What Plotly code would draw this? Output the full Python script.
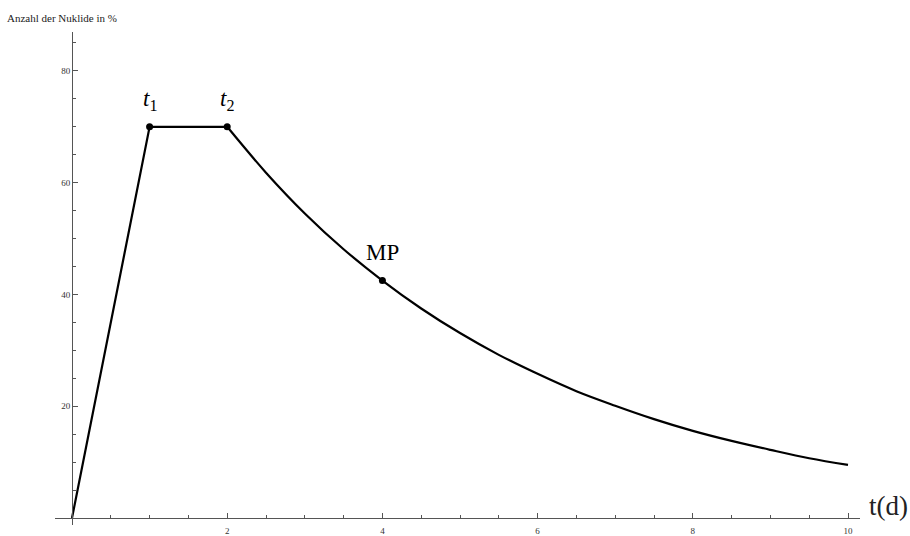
import plotly.graph_objects as go

# Nuclide count (%) over time t in days
rise_t = [0, 1, 2]
rise_y = [0, 70, 70]

decay_t = [2, 2.5, 3, 3.5, 4, 4.5, 5, 5.5, 6, 6.5, 7, 7.5, 8, 8.5, 9, 9.5, 10]
decay_y = [70, 61.8, 54.5, 48.1, 42.5, 37.5, 33.1, 29.2, 25.8, 22.7, 20.1, 17.7,
           15.6, 13.8, 12.2, 10.7, 9.5]

mark_t = [1, 2, 4]
mark_y = [70, 70, 42.5]
mark_labels = ["<i>t</i><sub>1</sub>", "<i>t</i><sub>2</sub>", "MP"]

x_ticks = [2, 4, 6, 8, 10]
y_ticks = [20, 40, 60, 80]

W, H = 910, 536
serif = "Liberation Serif, Times New Roman, serif"
axis_col = "#555555"

fig = go.Figure()
fig.add_trace(go.Scatter(x=rise_t, y=rise_y, mode="lines",
                         line=dict(color="black", width=2.2), hoverinfo="skip"))
fig.add_trace(go.Scatter(x=decay_t, y=decay_y, mode="lines",
                         line=dict(color="black", width=2.2, shape="spline"),
                         hoverinfo="skip"))
fig.add_trace(go.Scatter(x=mark_t, y=mark_y, mode="markers",
                         marker=dict(color="black", size=7), hoverinfo="skip"))

# point labels
label_offsets = [(0, 4.8), (0, 4.8), (0, 5.0)]
for t, y, txt, (dx, dy) in zip(mark_t, mark_y, mark_labels, label_offsets):
    fig.add_annotation(x=t + dx, y=y + dy, text=txt, showarrow=False,
                       font=dict(family=serif, size=23, color="black"),
                       xanchor="center", yanchor="middle")

# axis titles
fig.add_annotation(x=5 / W, y=1 - 18 / H, xref="paper", yref="paper",
                   text="Anzahl der Nuklide in %", showarrow=False,
                   xanchor="left", yanchor="middle",
                   font=dict(family=serif, size=11, color="#222222"))
fig.add_annotation(x=888 / W, y=1 - 508 / H, xref="paper", yref="paper",
                   text="t(d)", showarrow=False, xanchor="center", yanchor="middle",
                   font=dict(family=serif, size=27, color="#222222"))

x0_px, x_scale = 72, 77.6
y0_px, y_scale = 520, 5.61
xl, xr = 55, 860
yb, yt = 527, 32

fig.update_layout(
    width=W, height=H,
    margin=dict(l=0, r=0, t=0, b=0),
    paper_bgcolor="white", plot_bgcolor="white",
    showlegend=False,
    xaxis=dict(
        domain=[xl / W, xr / W],
        range=[(xl - x0_px) / x_scale, (xr - x0_px) / x_scale],
        anchor="free", position=1 - y0_px / H,
        showgrid=False, zeroline=False,
        showline=True, linecolor=axis_col, linewidth=1,
        tickvals=x_ticks, ticks="inside", ticklen=5, tickcolor=axis_col,
        minor=dict(dtick=0.5, tick0=0, ticks="inside", ticklen=3, tickcolor=axis_col),
        tickfont=dict(family=serif, size=9, color="#333333"),
        ticklabelstandoff=4,
    ),
    yaxis=dict(
        domain=[1 - yb / H, 1 - yt / H],
        range=[(y0_px - yb) / y_scale, (y0_px - yt) / y_scale],
        anchor="free", position=x0_px / W,
        showgrid=False, zeroline=False,
        showline=True, linecolor=axis_col, linewidth=1,
        tickvals=y_ticks, ticks="inside", ticklen=5, tickcolor=axis_col,
        minor=dict(dtick=5, tick0=0, ticks="inside", ticklen=3, tickcolor=axis_col),
        tickfont=dict(family=serif, size=9, color="#333333"),
    ),
)

fig.write_html("out.html")
